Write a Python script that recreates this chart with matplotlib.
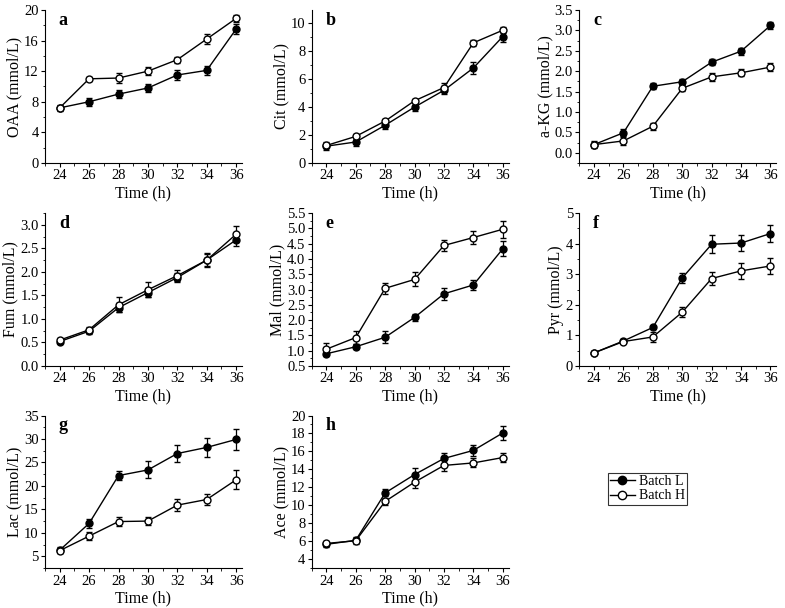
import numpy as np
import matplotlib.pyplot as plt
from matplotlib.ticker import AutoMinorLocator, MultipleLocator
from matplotlib.lines import Line2D

plt.rcParams['font.family'] = ['Liberation Serif', 'DejaVu Serif']

time = [24, 26, 28, 30, 32, 34, 36]

# Batch L (filled) / Batch H (open) means and error bars per metabolite
oaa_l = [7.2, 8.0, 9.0, 9.8, 11.5, 12.1, 17.5]
oaa_l_err = [0.4, 0.5, 0.5, 0.5, 0.6, 0.6, 0.7]
oaa_h = [7.2, 11.0, 11.1, 12.0, 13.5, 16.2, 18.9]
oaa_h_err = [0.3, 0.3, 0.7, 0.5, 0.4, 0.6, 0.5]

cit_l = [1.2, 1.5, 2.7, 4.0, 5.2, 6.8, 9.05]
cit_l_err = [0.3, 0.3, 0.3, 0.3, 0.3, 0.4, 0.4]
cit_h = [1.25, 1.9, 3.0, 4.45, 5.4, 8.6, 9.5]
cit_h_err = [0.2, 0.2, 0.15, 0.15, 0.3, 0.2, 0.2]

akg_l = [0.2, 0.49, 1.63, 1.74, 2.22, 2.49, 3.12]
akg_l_err = [0.06, 0.08, 0.07, 0.08, 0.08, 0.09, 0.09]
akg_h = [0.2, 0.29, 0.65, 1.58, 1.86, 1.96, 2.1]
akg_h_err = [0.08, 0.1, 0.09, 0.07, 0.09, 0.09, 0.09]

fum_l = [0.52, 0.74, 1.24, 1.56, 1.88, 2.25, 2.68]
fum_l_err = [0.04, 0.05, 0.1, 0.1, 0.1, 0.12, 0.12]
fum_h = [0.55, 0.77, 1.3, 1.62, 1.92, 2.25, 2.8]
fum_h_err = [0.04, 0.06, 0.16, 0.16, 0.12, 0.15, 0.17]

mal_l = [0.9, 1.13, 1.44, 2.09, 2.86, 3.15, 4.33]
mal_l_err = [0.06, 0.08, 0.2, 0.12, 0.2, 0.15, 0.25]
mal_h = [1.05, 1.43, 3.04, 3.33, 4.44, 4.7, 4.97]
mal_h_err = [0.2, 0.2, 0.17, 0.23, 0.18, 0.22, 0.27]

pyr_l = [0.43, 0.82, 1.26, 2.88, 3.98, 4.02, 4.33]
pyr_l_err = [0.05, 0.05, 0.05, 0.17, 0.3, 0.25, 0.28]
pyr_h = [0.43, 0.8, 0.95, 1.76, 2.86, 3.11, 3.27]
pyr_h_err = [0.05, 0.06, 0.16, 0.17, 0.2, 0.25, 0.27]

lac_l = [6.3, 12.0, 22.2, 23.4, 26.9, 28.2, 29.9]
lac_l_err = [0.7, 0.9, 0.9, 1.8, 1.8, 2.0, 2.3]
lac_h = [6.2, 9.3, 12.4, 12.5, 15.9, 17.1, 21.3]
lac_h_err = [0.6, 0.9, 0.9, 0.8, 1.3, 1.1, 2.0]

ace_l = [5.6, 6.05, 11.35, 13.4, 15.2, 16.1, 18.05]
ace_l_err = [0.3, 0.3, 0.4, 0.7, 0.6, 0.6, 0.8]
ace_h = [5.7, 6.0, 10.4, 12.55, 14.42, 14.7, 15.3]
ace_h_err = [0.25, 0.4, 0.35, 0.6, 0.6, 0.5, 0.5]

panels = [
    ('a', 'OAA (mmol/L)', oaa_l, oaa_l_err, oaa_h, oaa_h_err, (0, 20), 4),
    ('b', 'Cit (mmol/L)', cit_l, cit_l_err, cit_h, cit_h_err, (0, 10.95), 2),
    ('c', 'a-KG (mmol/L)', akg_l, akg_l_err, akg_h, akg_h_err, (-0.25, 3.5), 0.5),
    ('d', 'Fum (mmol/L)', fum_l, fum_l_err, fum_h, fum_h_err, (0, 3.25), 0.5),
    ('e', 'Mal (mmol/L)', mal_l, mal_l_err, mal_h, mal_h_err, (0.5, 5.5), 0.5),
    ('f', 'Pyr (mmol/L)', pyr_l, pyr_l_err, pyr_h, pyr_h_err, (0, 5), 1),
    ('g', 'Lac (mmol/L)', lac_l, lac_l_err, lac_h, lac_h_err, (2.4, 35), 5),
    ('h', 'Ace (mmol/L)', ace_l, ace_l_err, ace_h, ace_h_err, (2.9, 20), 2),
]

fig = plt.figure(figsize=(7.85, 6.08), dpi=100)
lefts = [0.0573, 0.397, 0.738]
bottoms = [0.732, 0.398, 0.065]
w, h = 0.251, 0.2516

for i, (letter, ylab, yl, el, yh, eh, ylim, step) in enumerate(panels):
    r, c = divmod(i, 3)
    ax = fig.add_axes([lefts[c], bottoms[r], w, h])
    ax.errorbar(time, yl, yerr=el, color='black', lw=1, marker='o', ms=5,
                mfc='black', mec='black', capsize=2.2, elinewidth=0.9, zorder=3)
    ax.errorbar(time, yh, yerr=eh, color='black', lw=1, marker='o', ms=5,
                mfc='white', mec='black', capsize=2.2, elinewidth=0.9, zorder=3)
    ax.set_xlim(23, 36.4)
    ax.set_ylim(*ylim)
    ax.set_xticks(time)
    ax.yaxis.set_major_locator(MultipleLocator(step))
    if letter == 'c':
        ax.set_yticks(np.arange(0, 3.51, 0.5))
    ax.xaxis.set_minor_locator(AutoMinorLocator(2))
    ax.yaxis.set_minor_locator(AutoMinorLocator(2))
    ax.yaxis.set_major_formatter(plt.FuncFormatter(
        lambda v, p, s=step: f'{v:.1f}' if s < 1 else f'{v:.0f}'))
    for side in ('top', 'right'):
        ax.spines[side].set_visible(False)
    ax.tick_params(which='major', direction='out', length=3, width=0.8,
                   labelsize=10.5, pad=1.5)
    ax.tick_params(which='minor', direction='out', length=1.8, width=0.6)
    ax.set_xlabel('Time (h)', fontsize=11.5, labelpad=2)
    ax.set_ylabel(ylab, fontsize=11.5, labelpad=1)
    ax.text(0.07, 0.99, letter, transform=ax.transAxes, fontsize=13,
            fontweight='bold', va='top', ha='left')

handles = [
    Line2D([], [], color='black', lw=1, marker='o', ms=6, mfc='black', mec='black'),
    Line2D([], [], color='black', lw=1, marker='o', ms=6, mfc='white', mec='black'),
]
leg = fig.legend(handles, ['Batch L', 'Batch H'], loc='upper left',
                 bbox_to_anchor=(0.774, 0.222), fontsize=10, frameon=True,
                 fancybox=False, edgecolor='black', handlelength=1.8,
                 handletextpad=0.3, borderpad=0.15, labelspacing=0.1,
                 borderaxespad=0)
leg.get_frame().set_linewidth(0.8)

fig.savefig('out.png', dpi=100)
